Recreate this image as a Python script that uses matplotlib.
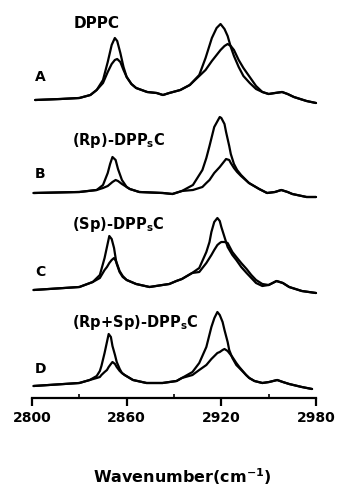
import matplotlib
matplotlib.use('Agg')
import matplotlib.pyplot as plt

# spectra: wavenumber (cm-1) and height above baseline
wn_a = [2802, 2818, 2830, 2837, 2841, 2845, 2848, 2850.5, 2852.5, 2854, 2856, 2858, 2860, 2863, 2866,
        2873, 2879, 2883, 2887, 2894, 2900, 2906, 2910, 2914, 2917, 2919.5, 2922, 2924, 2926, 2928,
        2931, 2934, 2938, 2942, 2946, 2950, 2954, 2958.5, 2962, 2966, 2974, 2980]
tall_a = [0, 1, 2, 5, 10, 20, 38, 55, 62, 59, 47, 33, 23, 16, 12, 8, 7, 5, 7, 10, 15, 25, 42, 62, 72,
          76, 71, 64, 53, 44, 33, 24, 17, 11, 8, 6, 7, 8, 6, 3, -1, -3]
short_a = [0, 1, 2, 5, 10, 17, 28, 36, 40, 41, 38, 30, 23, 16, 12, 8, 7, 5, 7, 10, 15, 24, 30, 39, 45,
           50, 54, 56, 54, 50, 40, 32, 23, 14, 8, 6, 7, 8, 6, 3, -1, -3]

wn_b = [2801, 2830, 2841, 2845, 2848, 2849.5, 2851, 2853, 2854.5, 2857, 2860, 2862, 2868, 2883, 2889,
        2895, 2902, 2908, 2910.5, 2912.5, 2915.5, 2919, 2920, 2922, 2923, 2925, 2926, 2928, 2930,
        2932.5, 2937.5, 2944, 2949, 2954, 2958, 2962, 2965, 2974, 2980]
tall_b = [0, 1, 3, 8, 20, 29, 36, 33, 24, 13, 6, 4, 1, 0, -1, 2, 8, 23, 35, 47, 66, 76, 75, 69, 61,
          47, 39, 29, 23, 18, 10, 4, 0, 1, 3, 1, -1, -4, -4]
short_b = [0, 1, 3, 5, 7, 9, 11, 13, 12, 9, 6, 4, 1, 0, -1, 2, 3, 6, 10, 13, 20, 26, 28, 32, 34,
           33, 30, 25, 21, 17, 10, 4, 0, 1, 3, 1, -1, -4, -4]

wn_c = [2801, 2830, 2838.5, 2843, 2846, 2847.5, 2849, 2850.5, 2852, 2853.5, 2855.5, 2857.5, 2860, 2866,
        2874.5, 2882.7, 2887, 2891.5, 2895, 2901.5, 2906, 2910.5, 2912.5, 2913.7, 2915.5, 2917.5, 2919,
        2920, 2922, 2924, 2927, 2929.5, 2932.6, 2936, 2939, 2942, 2946, 2950, 2955, 2959, 2963, 2971, 2980]
tall_c = [0, 3, 8, 15, 32, 43, 54, 51, 42, 27, 18, 13, 10, 6, 3, 5, 6, 9, 11, 17, 22, 38, 48, 58, 68,
          72, 69, 63, 53, 43, 35, 30, 23, 17, 12, 7, 4, 5, 9, 7, 3, -1, -3]
short_c = [0, 3, 8, 12, 20, 23, 27, 30, 32, 28, 19, 14, 10, 6, 3, 5, 6, 9, 11, 17, 18, 27, 32, 35, 40,
           45, 47, 48, 48, 47, 38, 33, 27, 21, 15, 10, 6, 5, 9, 7, 3, -1, -3]

wn_d = [2801, 2830, 2836.6, 2841, 2843, 2844, 2846, 2847.5, 2848.6, 2850, 2851, 2852.6, 2853.7, 2855.6,
        2857, 2858.7, 2864, 2872.6, 2882.7, 2891.6, 2895, 2901.7, 2906, 2910.5, 2913.7, 2915.6, 2917.5,
        2919, 2920.8, 2922, 2924, 2925, 2927, 2929.5, 2931.4, 2935.7, 2937.7, 2941, 2946, 2950.3,
        2955.4, 2959, 2963, 2971, 2977.5]
tall_d = [0, 3, 6, 10, 15, 20, 33, 44, 52, 49, 40, 31, 24, 17, 13, 11, 6, 3, 3, 5, 8, 14, 23, 39, 59,
          68, 74, 71, 64, 56, 44, 36, 28, 21, 18, 11, 8, 5, 3, 4, 6, 4, 2, -1, -3]
short_d = [0, 3, 6, 8, 9, 11, 14, 16, 19, 22, 24, 22, 19, 15, 13, 11, 6, 3, 3, 5, 8, 11, 16, 21, 27,
           30, 33, 34, 36, 37, 35, 33, 29, 23, 19, 11, 8, 5, 3, 4, 6, 4, 2, -1, -3]

letters = ['A', 'B', 'C', 'D']
names = ['DPPC', r'(Rp)-DPP$_{\mathbf{s}}$C', r'(Sp)-DPP$_{\mathbf{s}}$C', r'(Rp+Sp)-DPP$_{\mathbf{s}}$C']
ticks = [2800, 2860, 2920, 2980]
minor_ticks = [2830, 2890, 2950]

W, H = 340, 488
fig = plt.figure(figsize=(W / 100, H / 100), dpi=100)


def px_axes(left, top, width, height):
    return fig.add_axes([left / W, 1 - (top + height) / H, width / W, height / H])


def px_text(x, y, s, **kw):
    fig.text(x / W, 1 - y / H, s, fontweight='bold', va='center', **kw)


# layout in pixels: baseline of each panel, letter y, title y
baselines = [100, 193, 290, 386]
letter_y = [77, 174, 272, 369]
title_y = [23, 141, 225, 322]
spectra = [(wn_a, tall_a, short_a), (wn_b, tall_b, short_b),
           (wn_c, tall_c, short_c), (wn_d, tall_d, short_d)]

for i, (wn, tall, short) in enumerate(spectra):
    bottom = baselines[i] + 12 if i < 3 else 398
    ax = px_axes(32, bottom - 90, 284, 90)
    ax.set_xlim(2800, 2980)
    ax.set_ylim(-(bottom - baselines[i]), 90 - (bottom - baselines[i]))
    for y in (tall, short):
        ax.plot(wn, y, color='black', lw=1.6, clip_on=False,
                solid_joinstyle='round', solid_capstyle='round')
    for s in ['top', 'right', 'left']:
        ax.spines[s].set_visible(False)
    ax.set_yticks([])
    if i < 3:
        ax.spines['bottom'].set_visible(False)
        ax.set_xticks([])
    else:
        ax.spines['bottom'].set_linewidth(1.6)
        ax.set_xticks(ticks)
        ax.set_xticks(minor_ticks, minor=True)
        ax.tick_params(which='major', direction='out', length=6, width=1.6, pad=3)
        ax.tick_params(which='minor', direction='in', length=3, width=1.2)
        ax.set_xticklabels([str(t) for t in ticks], fontsize=10, fontweight='bold')

    px_text(40, letter_y[i], letters[i], ha='center', fontsize=10)
    px_text(72 if i else 74, title_y[i], names[i], ha='left', fontsize=10.5 if i else 11)

px_text(182, 477, r'Wavenumber(cm$^{\mathbf{-1}}$)', ha='center', fontsize=11.5)

fig.savefig('out.png', dpi=100)
